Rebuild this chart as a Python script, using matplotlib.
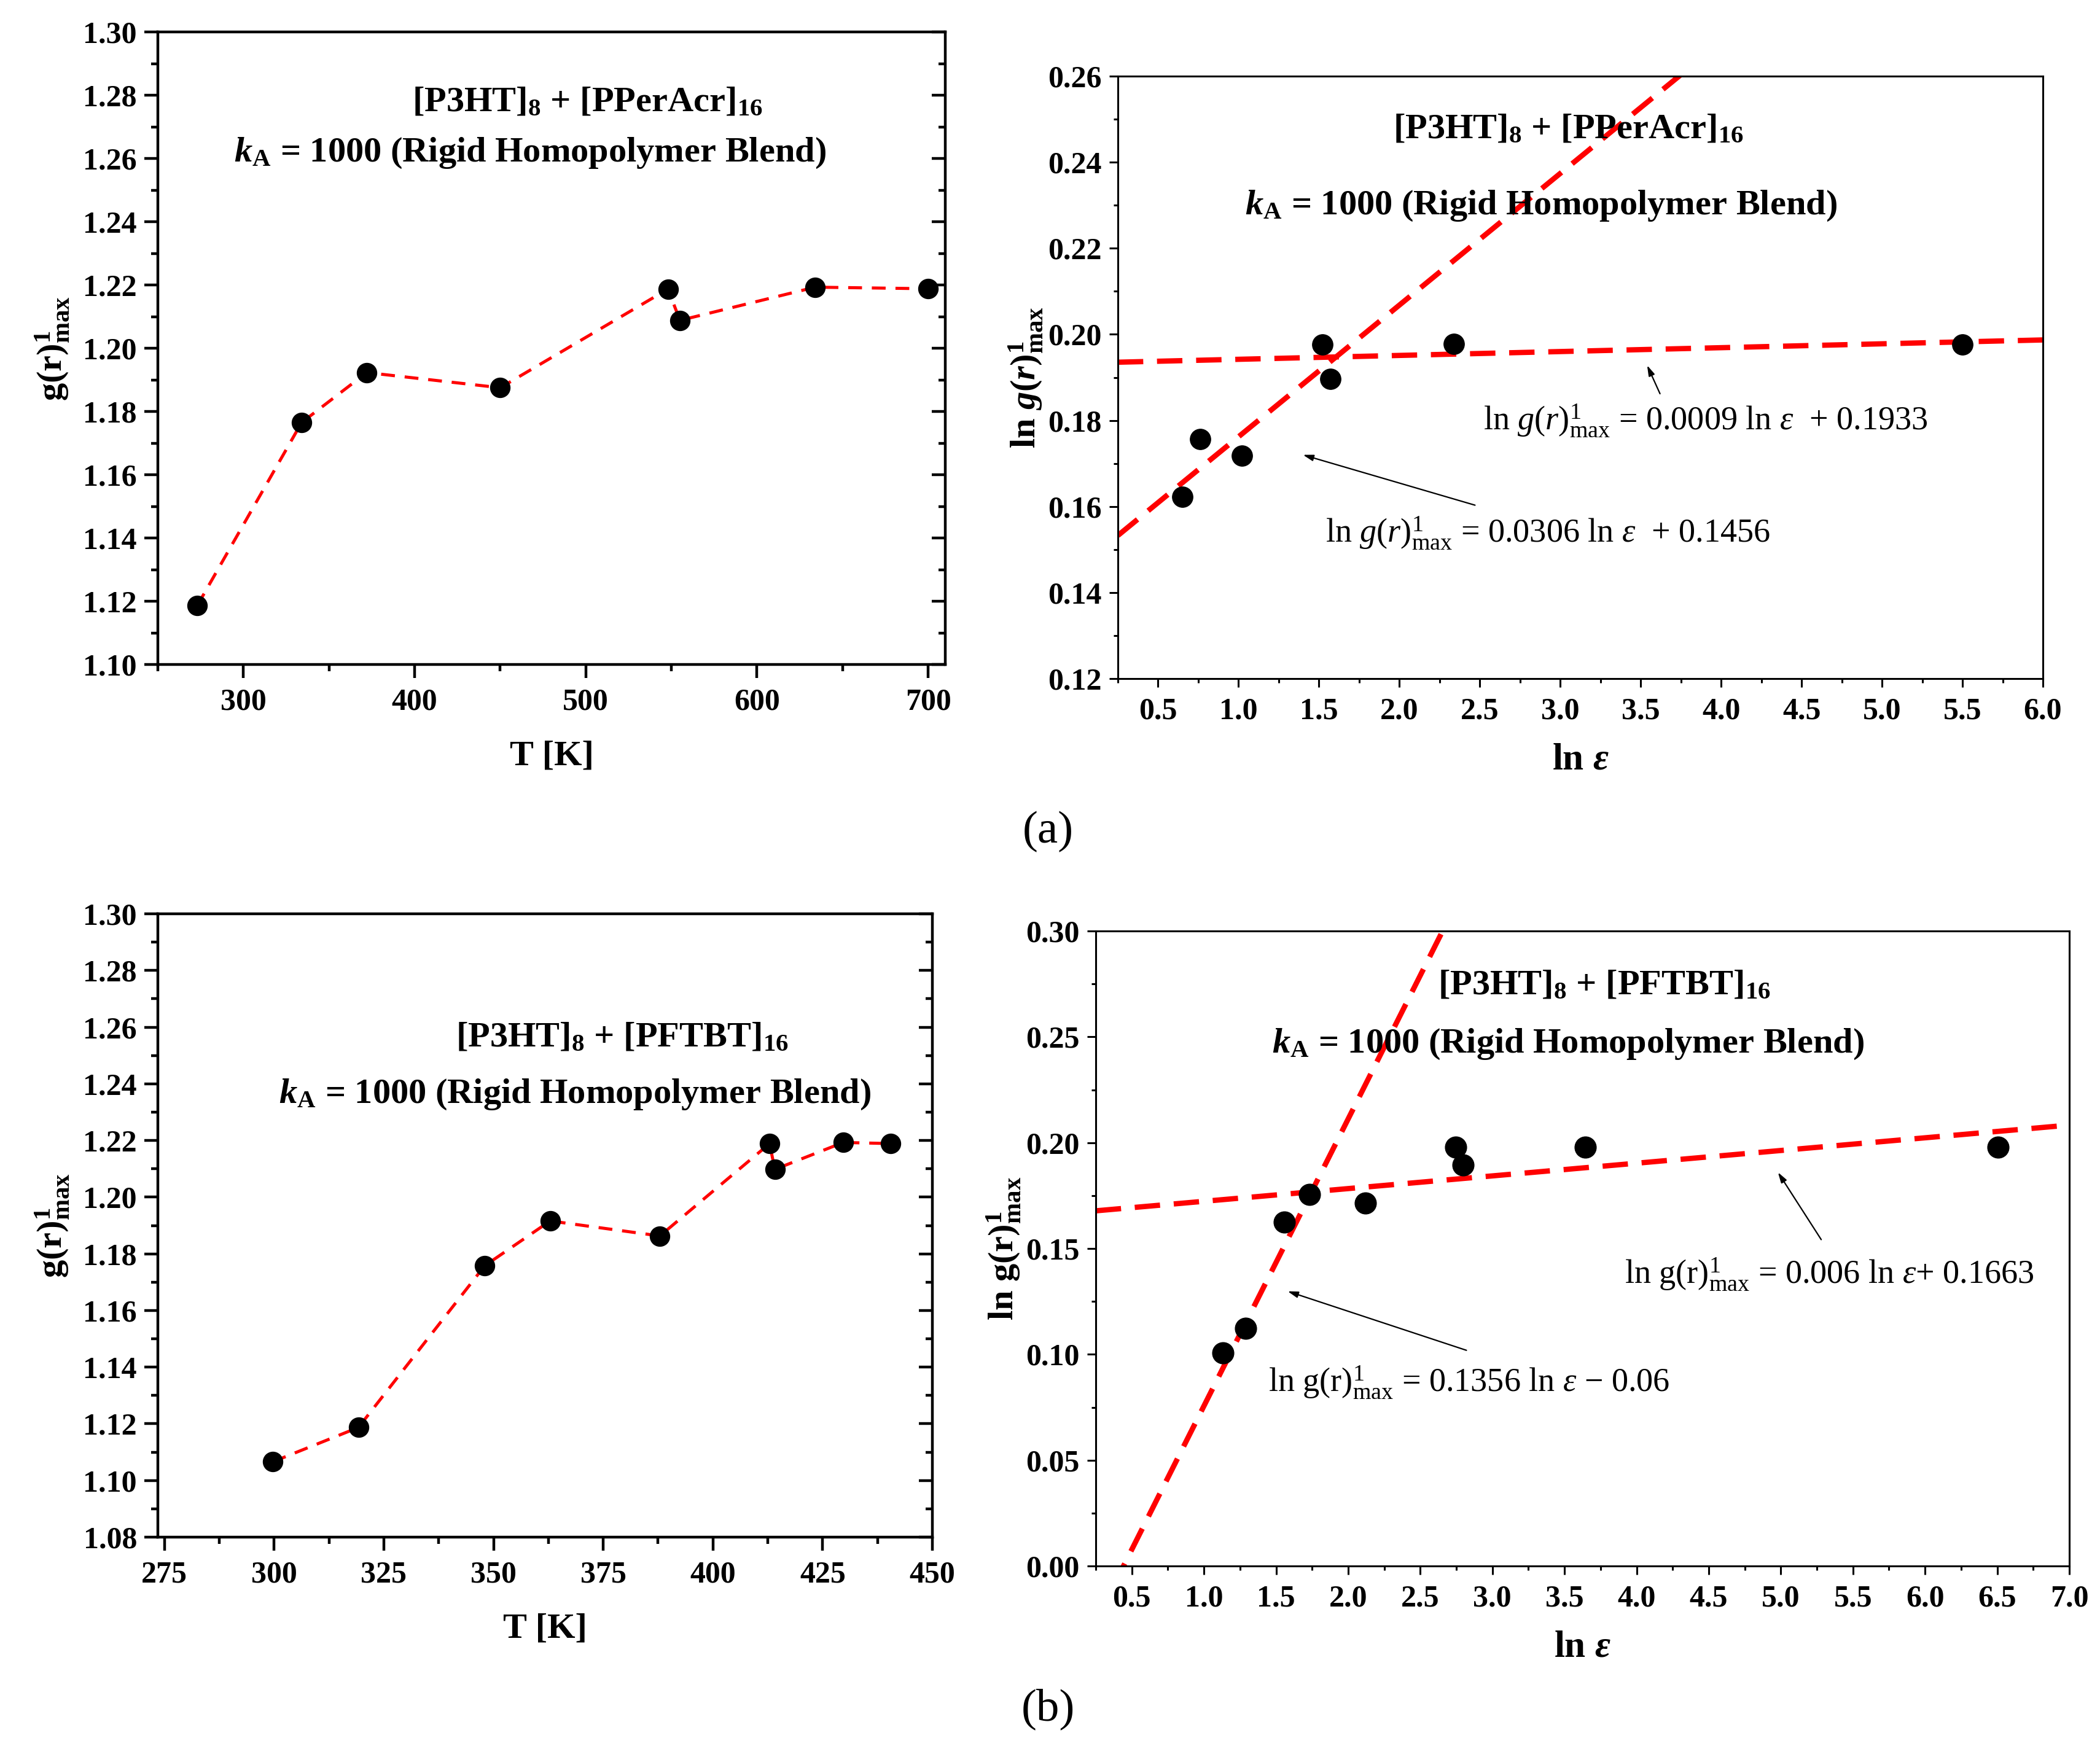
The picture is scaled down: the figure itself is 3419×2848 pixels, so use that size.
import numpy as np
import matplotlib
matplotlib.use("Agg")
from matplotlib import pyplot as plt
from matplotlib.ticker import MultipleLocator, FormatStrFormatter

plt.rcParams['font.family'] = ['Liberation Serif', 'DejaVu Serif']
plt.rcParams['font.weight'] = 'bold'
plt.rcParams['axes.labelweight'] = 'bold'
plt.rcParams['mathtext.fontset'] = 'custom'
plt.rcParams['mathtext.rm'] = 'Liberation Serif:normal'
plt.rcParams['mathtext.it'] = 'Liberation Serif:italic:normal'
plt.rcParams['mathtext.bf'] = 'Liberation Serif:bold'
plt.rcParams['mathtext.bfit'] = 'Liberation Serif:italic:bold'

# (a) [P3HT]8 + [PPerAcr]16
T_a = [273, 334, 372, 450, 548, 555, 634, 700]
g_a = [1.1186, 1.1765, 1.1923, 1.1875, 1.2187, 1.2088, 1.2193, 1.2188]
lneps_a = [0.65, 0.76, 1.02, 1.52, 1.57, 2.34, 5.50]
lng_a = [0.1622, 0.1756, 0.1718, 0.1976, 0.1896, 0.1978, 0.1976]
fit_a = [(0.0306, 0.1456), (0.0009, 0.1933)]

# (b) [P3HT]8 + [PFTBT]16
T_b = [299.7, 319.2, 348, 362.9, 387.9, 412.9, 414.1, 429.7, 440.5]
g_b = [1.1066, 1.1187, 1.1758, 1.1916, 1.1863, 1.2189, 1.2098, 1.2193, 1.2189]
lneps_b = [1.133, 1.287, 1.556, 1.734, 2.118, 2.746, 2.797, 3.646, 6.505]
lng_b = [0.1008, 0.1123, 0.1625, 0.1756, 0.1716, 0.1979, 0.1895, 0.1979, 0.1979]
fit_b = [(0.1356, -0.06), (0.006, 0.1663)]

W, H = 3419, 2848
fig = plt.figure(figsize=(W / 100, H / 100), dpi=100)


def box(l, r, t, b):
    return [l / W, 1 - b / H, (r - l) / W, (b - t) / H]


def style(ax, xlim, ylim, xmaj, xmin, ymaj, ymin, xfmt, yfmt, lw, tl, right_in):
    ax.set_xlim(xlim)
    ax.set_ylim(ylim)
    ax.xaxis.set_major_locator(MultipleLocator(xmaj))
    ax.xaxis.set_minor_locator(MultipleLocator(xmin))
    ax.yaxis.set_major_locator(MultipleLocator(ymaj))
    ax.yaxis.set_minor_locator(MultipleLocator(ymin))
    ax.xaxis.set_major_formatter(FormatStrFormatter(xfmt))
    ax.yaxis.set_major_formatter(FormatStrFormatter(yfmt))
    for s in ax.spines.values():
        s.set_linewidth(lw)
    ax.tick_params(which='both', direction='out', width=lw, labelsize=36,
                   top=False, right=False)
    ax.tick_params(which='major', length=tl)
    ax.tick_params(which='minor', length=tl * 0.52)
    ax.tick_params(axis='y', pad=9)
    ax.tick_params(axis='x', pad=12)
    if right_in:
        tw = ax.twinx()
        tw.set_ylim(ylim)
        tw.yaxis.set_major_locator(MultipleLocator(ymaj))
        tw.yaxis.set_minor_locator(MultipleLocator(ymin))
        tw.tick_params(which='both', direction='in', width=lw, labelright=False)
        tw.tick_params(which='major', length=tl)
        tw.tick_params(which='minor', length=tl * 0.52)


def title(ax, line1, x1, y1, x2, y2, size=42):
    ax.text(x1, y1, line1, fontsize=size, ha='center', va='center')
    ax.text(x2, y2, r'$\mathbfit{k}_{\mathbf{A}}$ = 1000 (Rigid Homopolymer Blend)',
            fontsize=size, ha='center', va='center')


def note(ax, s, xy, xytext, tx, ty):
    ax.text(tx, ty, s, fontsize=39, fontweight='normal', ha='left', va='center')
    ax.annotate('', xy=xy, xytext=xytext,
                arrowprops=dict(arrowstyle='-|>,head_length=1.0,head_width=0.3',
                                color='black', lw=1.6, shrinkA=0, shrinkB=0))


# top left
ax1 = fig.add_axes(box(257, 1539, 52, 1082))
ax1.plot(T_a, g_a, color='red', lw=3.6, dashes=(4.5, 3.2), zorder=2)
ax1.plot(T_a, g_a, 'o', color='black', ms=23, zorder=3)
style(ax1, (250, 710), (1.10, 1.30), 100, 50, 0.02, 0.01, '%d', '%.2f', 3.2, 15.5, True)
ax1.set_xlabel('T [K]', fontsize=42, labelpad=28)
ax1.set_ylabel(r'g(r)$^{\mathbf{1}}_{\mathbf{max}}$', fontsize=42, labelpad=14)
title(ax1, r'[P3HT]$_{\mathbf{8}}$ + [PPerAcr]$_{\mathbf{16}}$', 501, 1.2777, 467.6, 1.2617)

# top right
ax2 = fig.add_axes(box(1820, 3326, 124, 1105))
xs = np.array([0.25, 6.0])
for m, b in fit_a:
    ax2.plot(xs, m * xs + b, color='red', lw=6.2, dashes=(4.8, 2.6), zorder=2)
ax2.plot(lneps_a, lng_a, 'o', color='black', ms=24, zorder=3)
style(ax2, (0.25, 6.0), (0.12, 0.26), 0.5, 0.25, 0.02, 0.01, '%.1f', '%.2f', 2.2, 10, False)
ax2.set_xlabel('ln $\\mathbfit{ε}$', fontsize=44, labelpad=20)
ax2.set_ylabel(r'ln $\mathbfit{g}\mathbf{(}\mathbfit{r}\mathbf{)}^{\mathbf{1}}_{\mathbf{max}}$',
               fontsize=42, labelpad=4)
title(ax2, r'[P3HT]$_{\mathbf{8}}$ + [PPerAcr]$_{\mathbf{16}}$', 3.05, 0.2476, 2.88, 0.2299)
note(ax2, r'ln $g(r)^{1}_{\rm max}$ = 0.0009 ln $\varepsilon$  + 0.1933',
     (3.54, 0.1928), (3.62, 0.1862), 2.52, 0.1800)
note(ax2, r'ln $g(r)^{1}_{\rm max}$ = 0.0306 ln $\varepsilon$  + 0.1456',
     (1.40, 0.1720), (2.47, 0.1603), 1.54, 0.1538)

# bottom left
ax3 = fig.add_axes(box(257, 1518, 1488, 2503))
ax3.plot(T_b, g_b, color='red', lw=3.6, dashes=(4.5, 3.2), zorder=2)
ax3.plot(T_b, g_b, 'o', color='black', ms=23, zorder=3)
style(ax3, (273.5, 450), (1.08, 1.30), 25, 12.5, 0.02, 0.01, '%d', '%.2f', 3.2, 15.5, True)
ax3.set_xlabel('T [K]', fontsize=42, labelpad=28)
ax3.set_ylabel(r'g(r)$^{\mathbf{1}}_{\mathbf{max}}$', fontsize=42, labelpad=14)
title(ax3, r'[P3HT]$_{\mathbf{8}}$ + [PFTBT]$_{\mathbf{16}}$', 379.3, 1.2561, 368.5, 1.2362)

# bottom right
ax4 = fig.add_axes(box(1784, 3369, 1516, 2550))
xs = np.array([0.25, 7.0])
for m, b in fit_b:
    ax4.plot(xs, m * xs + b, color='red', lw=6.2, dashes=(4.8, 2.6), zorder=2)
ax4.plot(lneps_b, lng_b, 'o', color='black', ms=25, zorder=3)
style(ax4, (0.25, 7.0), (0.0, 0.30), 0.5, 0.25, 0.05, 0.025, '%.1f', '%.2f', 2.2, 10, False)
ax4.set_xlabel('ln $\\mathbfit{ε}$', fontsize=44, labelpad=20)
ax4.set_ylabel(r'ln g(r)$^{\mathbf{1}}_{\mathbf{max}}$', fontsize=42, labelpad=4)
title(ax4, r'[P3HT]$_{\mathbf{8}}$ + [PFTBT]$_{\mathbf{16}}$', 3.776, 0.274, 3.526, 0.2466)
note(ax4, r'ln g(r)$^{1}_{\rm max}$ = 0.006 ln $\varepsilon$+ 0.1663',
     (4.98, 0.186), (5.28, 0.1542), 3.915, 0.1378)
note(ax4, r'ln g(r)$^{1}_{\rm max}$ = 0.1356 ln $\varepsilon$ − 0.06',
     (1.58, 0.1298), (2.82, 0.1019), 1.445, 0.0869)

fig.text(1706 / W, 1 - 1354 / H, '(a)', fontsize=54, fontweight='normal',
         ha='center', va='center')
fig.text(1706 / W, 1 - 2783 / H, '(b)', fontsize=54, fontweight='normal',
         ha='center', va='center')

fig.savefig('out.png', dpi=100, facecolor='white')
